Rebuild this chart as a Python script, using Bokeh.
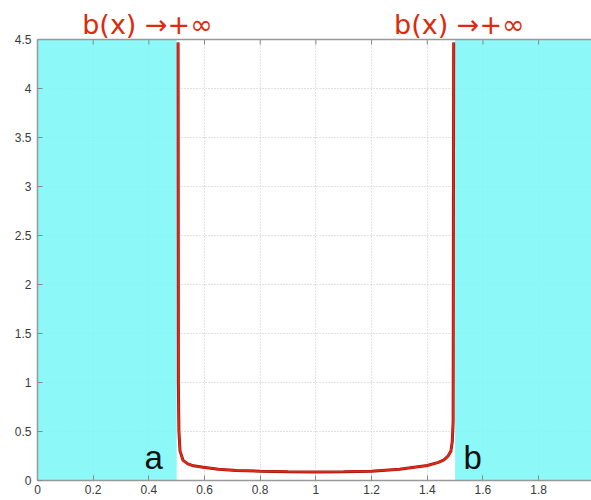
from bokeh.plotting import figure
from bokeh.models import FixedTicker, Range1d, NumeralTickFormatter, Span
from bokeh.core.properties import value
from bokeh.embed import file_html
from bokeh.resources import INLINE

# --- data ---
a_bound = 0.5
b_bound = 1.5
x_max = 2.0
y_max = 4.5

curve_x = [0.505, 0.506, 0.508, 0.512, 0.523, 0.54, 0.56, 0.595, 0.65, 0.715,
           0.8, 0.9, 1.0, 1.1, 1.2, 1.3, 1.4, 1.44, 1.46, 1.475, 1.485, 1.49,
           1.493, 1.495]
curve_y = [4.47, 1.0, 0.5, 0.3, 0.205, 0.17, 0.15, 0.135, 0.115, 0.102,
           0.095, 0.09, 0.088, 0.09, 0.095, 0.115, 0.153, 0.185, 0.21, 0.25,
           0.3, 0.4, 0.6, 4.47]

x_ticks = [0, 0.2, 0.4, 0.6, 0.8, 1.0, 1.2, 1.4, 1.6, 1.8]
y_ticks = [0, 0.5, 1, 1.5, 2, 2.5, 3, 3.5, 4, 4.5]

top_labels = ["b(x) \u2192+\u221e", "b(x) \u2192+\u221e"]
top_label_x = [0.395, 1.515]
bound_labels = ["a", "b"]
bound_label_x = [0.417, 1.563]

# frame spans the full height; the band above y_max holds the headline labels
px_per_unit = 98.0
y_top = y_max + 39 / px_per_unit
label_y = y_top - 24 / px_per_unit

p = figure(width=591, height=500, x_range=Range1d(0, 1.99), y_range=Range1d(0, y_top),
           output_backend="svg", toolbar_location=None,
           min_border_left=37, min_border_top=0, min_border_bottom=20, min_border_right=0)
p.outline_line_color = None
p.background_fill_color = "white"

# grid (underneath the shading)
for g in (p.xgrid, p.ygrid):
    g.grid_line_color = "#c4c4c4"
    g.grid_line_dash = "1 2"
p.xgrid.ticker = FixedTicker(ticks=x_ticks)
p.ygrid.ticker = FixedTicker(ticks=y_ticks)

# shaded regions outside [a, b]
p.quad(left=[0, b_bound], right=[a_bound, x_max], bottom=[0, 0], top=[y_max, y_max],
       fill_color="#80F7F7", fill_alpha=0.9, line_color=None)

# white band above the axes box
p.quad(left=[0], right=[x_max], bottom=[y_max], top=[y_top],
       fill_color="white", line_color=None)

# top border of the axes box with inward ticks
p.add_layout(Span(location=y_max, dimension="width", line_color="#999999", line_width=1.5))
p.segment(x0=x_ticks, y0=[y_max] * len(x_ticks), x1=x_ticks,
          y1=[y_max - 5 / px_per_unit] * len(x_ticks), line_color="#888888", line_width=1)

# barrier curve
p.line(curve_x, curve_y, line_color="#9a1408", line_width=3.0)
p.line(curve_x, curve_y, line_color="#e3281a", line_width=1.8)

fmt = NumeralTickFormatter(format="0.[0]")
for ax in (p.xaxis[0], p.yaxis[0]):
    ax.formatter = fmt
    ax.axis_line_color = "#999999"
    ax.axis_line_width = 1.5
    ax.major_tick_line_color = "#888888"
    ax.major_tick_in = 5
    ax.major_tick_out = 0
    ax.minor_tick_line_color = None
    ax.major_label_text_font = "Liberation Sans"
    ax.major_label_text_font_size = "12px"
    ax.major_label_text_color = "#3a3a3a"
p.xaxis[0].ticker = FixedTicker(ticks=x_ticks)
p.yaxis[0].ticker = FixedTicker(ticks=y_ticks)
p.yaxis[0].bounds = (0, y_max)
p.xaxis[0].major_label_standoff = 4
p.yaxis[0].major_label_standoff = 6

p.text(x=top_label_x, y=[label_y] * 2, text=top_labels, text_align="center",
       text_baseline="middle", text_color="#dd2a0a",
       text_font=value("DejaVu Sans"), text_font_size="27px")

p.text(x=bound_label_x, y=[0.239] * 2, text=bound_labels, text_align="center",
       text_baseline="middle", text_color="#111111",
       text_font=value("Liberation Sans"), text_font_size="33px")

open("out.html", "w").write(file_html(p, INLINE))
